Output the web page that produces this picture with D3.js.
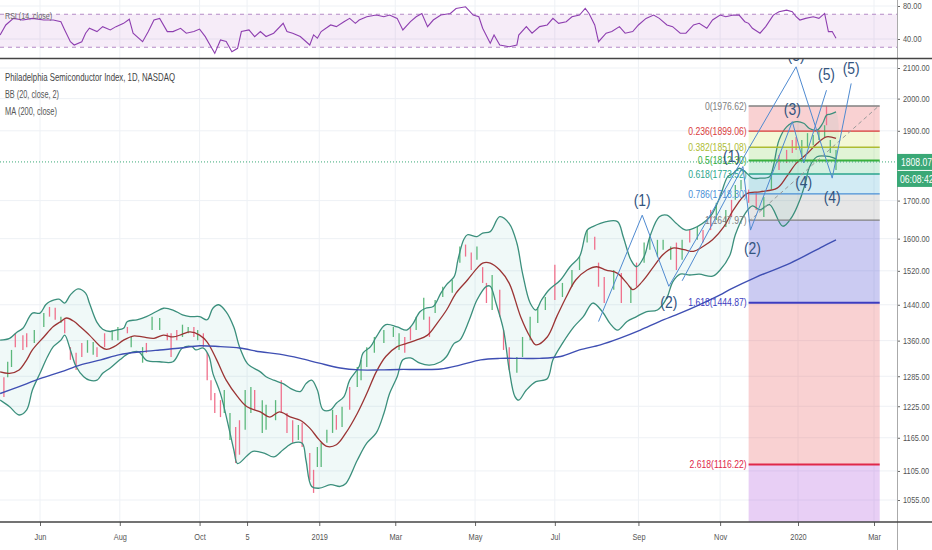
<!DOCTYPE html>
<html><head><meta charset="utf-8">
<script src="https://cdn.jsdelivr.net/npm/d3@7"></script>
<style>body{margin:0;background:#fff}svg{display:block}</style>
</head><body>
<svg id="c" width="932" height="550"></svg>
<script>
// ---------- DATA (day = trading days since 1 Jun 2018) ----------
const xTickDays   = [0,42,84,109,147,187,229,271,315,358,399,439];
const xTickLabels = ["Jun","Aug","Oct","5","2019","Mar","May","Jul","Sep","Nov","2020","Mar"];
const priceTicks  = [2100,2000,1900,1700,1600,1520,1440,1360,1285,1225,1165,1105,1055];
const rsiTicks    = [80,40];

const upperDay = [-21,-16,-12,-9,-4,0,3,5,10,13,16,20,24,26,30,33,37,40,44,46,51,56,61,65,70,75,79,84,88,91,94,98,102,105,109,111,116,119,123,128,132,137,140,143,146,149,153,156,160,163,168,170,174,177,182,188,193,196,200,203,207,211,214,218,220,223,225,230,233,237,242,247,251,254,258,261,264,268,274,279,284,288,291,298,304,307,311,314,318,321,326,330,335,340,346,351,354,358,362,365,368,372,375,379,384,386,389,393,398,402,405,409,412,414,416,419];
const upperVal = [1361,1365,1379,1387,1421,1421,1440,1447,1453,1444,1463,1477,1467,1444,1400,1385,1380,1383,1387,1402,1406,1413,1424,1432,1428,1417,1413,1413,1406,1432,1440,1424,1390,1347,1312,1305,1294,1284,1277,1270,1260,1254,1270,1277,1257,1218,1218,1231,1244,1277,1305,1333,1347,1368,1395,1390,1383,1395,1424,1432,1436,1467,1487,1506,1547,1597,1610,1605,1614,1618,1657,1639,1589,1514,1444,1428,1451,1475,1498,1530,1555,1622,1631,1644,1644,1605,1547,1530,1555,1605,1657,1661,1639,1622,1631,1648,1666,1711,1766,1776,1790,1776,1762,1762,1766,1795,1872,1912,1928,1923,1907,1902,1923,1948,1951,1958];

const midDay = [-21,-16,-11,-7,-4,2,7,11,14,18,21,26,32,35,39,44,49,54,60,65,70,75,79,84,88,93,98,104,109,116,121,126,132,137,142,147,151,156,161,167,172,177,182,188,193,198,204,209,214,219,225,230,233,237,242,247,253,258,261,267,272,277,282,288,293,298,304,309,312,317,323,328,333,339,344,349,354,360,365,372,379,388,393,398,404,409,414,419];
const midVal = [1294,1291,1298,1319,1340,1368,1391,1402,1410,1402,1391,1372,1347,1341,1347,1361,1370,1368,1365,1372,1368,1374,1379,1372,1357,1319,1277,1244,1224,1214,1204,1214,1204,1198,1183,1161,1149,1152,1174,1211,1250,1294,1326,1347,1354,1361,1372,1398,1428,1467,1498,1526,1539,1539,1522,1490,1413,1368,1351,1368,1413,1458,1498,1522,1530,1522,1514,1490,1475,1494,1530,1560,1576,1572,1568,1580,1597,1631,1675,1719,1724,1734,1766,1804,1833,1862,1882,1877];

const lowerDay = [-21,-16,-11,-7,-4,0,4,7,11,13,16,19,23,26,30,33,37,42,47,52,56,63,70,75,80,82,86,89,91,95,100,102,104,109,112,118,123,128,133,138,140,143,147,153,158,161,167,172,177,181,184,188,191,195,200,205,211,214,218,221,226,230,235,237,240,244,247,250,252,256,261,267,270,275,281,286,291,296,300,304,309,314,319,325,330,333,337,342,347,354,358,363,366,371,375,379,384,391,396,400,403,405,409,416,419];
const lowerVal = [1237,1224,1208,1218,1257,1291,1326,1347,1361,1372,1340,1305,1284,1277,1277,1291,1302,1319,1333,1336,1318,1315,1315,1344,1347,1340,1344,1326,1291,1250,1174,1143,1118,1132,1140,1137,1130,1143,1155,1155,1124,1078,1075,1081,1078,1083,1124,1155,1174,1211,1250,1284,1319,1323,1312,1308,1315,1326,1354,1361,1406,1451,1483,1483,1444,1383,1298,1244,1237,1257,1274,1280,1319,1354,1390,1413,1444,1424,1398,1383,1402,1413,1424,1428,1456,1493,1512,1510,1512,1507,1522,1557,1610,1664,1686,1675,1689,1632,1658,1702,1751,1793,1823,1823,1817];

const ma200Day = [-21,-11,0,11,21,32,42,53,63,74,84,95,105,116,126,137,147,158,168,179,189,200,211,221,232,242,253,263,274,284,295,305,316,326,337,347,358,363,377,395,412,419];
const ma200Val = [1250,1264,1280,1294,1308,1319,1330,1336,1340,1344,1349,1347,1344,1336,1331,1322,1312,1302,1298,1298,1299,1299,1300,1308,1319,1322,1322,1322,1326,1340,1351,1365,1383,1402,1421,1440,1463,1475,1505,1539,1580,1597];

const barDay  = [-19,-17,-15,-13,-9,-7,-3,2,5,8,11,13,16,19,22,25,28,30,34,38,41,46,48,54,56,59,63,67,69,72,75,78,81,83,86,88,90,92,95,97,100,103,105,108,111,113,117,119,124,127,130,133,136,138,142,144,146,148,151,154,156,159,163,167,169,172,176,181,186,189,192,195,198,202,205,208,212,217,221,224,227,230,233,235,238,242,244,247,251,254,258,262,266,271,275,280,284,288,292,294,297,302,306,311,314,318,321,325,328,332,335,338,342,346,349,353,356,361,364,366,369,373,377,381,385,389,393,396,398,401,404,407,410,413,414,416,419];
const barHigh = [1283,1315,1340,1376,1372,1376,1383,1421,1435,1433,1413,1406,1346,1334,1355,1361,1357,1346,1376,1383,1390,1390,1368,1346,1355,1413,1410,1376,1376,1383,1395,1390,1390,1383,1376,1334,1277,1251,1237,1257,1212,1185,1198,1257,1263,1257,1237,1228,1237,1277,1212,1198,1189,1193,1137,1107,1148,1156,1180,1218,1208,1224,1263,1304,1319,1346,1368,1383,1390,1376,1368,1390,1413,1456,1413,1451,1482,1498,1580,1585,1565,1580,1529,1491,1510,1475,1383,1346,1325,1368,1413,1435,1458,1535,1491,1522,1555,1622,1605,1540,1505,1522,1515,1482,1540,1590,1605,1597,1597,1580,1590,1597,1622,1630,1622,1675,1694,1675,1702,1743,1757,1730,1722,1710,1777,1828,1843,1872,1881,1872,1893,1887,1902,1917,1977,1872,1843];
const barLow  = [1243,1283,1304,1346,1340,1346,1355,1390,1413,1406,1399,1376,1319,1298,1325,1334,1330,1325,1346,1361,1361,1376,1346,1313,1334,1383,1383,1361,1325,1361,1368,1376,1368,1361,1346,1277,1237,1212,1204,1212,1161,1119,1134,1180,1212,1218,1174,1180,1198,1212,1174,1156,1161,1148,1089,1067,1112,1112,1156,1174,1180,1185,1218,1263,1277,1304,1334,1355,1368,1340,1334,1361,1383,1406,1368,1421,1458,1468,1540,1555,1522,1547,1491,1444,1428,1413,1340,1298,1292,1325,1361,1399,1428,1451,1458,1482,1522,1590,1572,1482,1444,1475,1444,1444,1482,1540,1572,1555,1572,1547,1522,1547,1590,1597,1590,1622,1648,1630,1656,1702,1730,1694,1675,1656,1730,1785,1805,1834,1843,1822,1851,1857,1872,1881,1917,1834,1785];
const barUp   = "duuddduuddudddduudduuduuduuddduududdddduudduuduuuddduddduuuududuuuuuuudduuduuuuddudduddduuuuuduuuudddududuuuuudududduuduudduudddduuuuuduuduudddd";

const rsiDay = [-21,-18,-14,-9,-4,2,7,11,13,16,18,22,24,26,30,33,37,40,44,47,49,54,57,60,63,67,70,74,77,81,84,87,90,92,95,98,101,104,106,110,113,116,119,123,128,130,133,137,142,144,146,148,153,156,160,163,166,168,172,177,181,184,188,191,195,198,201,204,207,211,216,219,224,228,231,233,237,239,242,247,251,252,256,259,263,267,270,273,277,280,284,287,289,292,294,298,301,305,308,312,315,319,323,326,330,333,337,340,344,347,351,354,358,361,365,368,371,373,375,379,382,386,389,393,396,398,400,403,407,410,413,415,417,419];
const rsiVal = [44.8,57,65,63,65,63,63,61,51,36.7,32.7,36.7,47,53,49,55,51,55,59,64,47,36.7,49,63,65,49,49,53,47,49,52,42.9,30.7,22.6,38.8,37,24.6,28.7,49,51,42.9,49,43,47,59,49,47,43,32.7,45,41,49,57,55,61,65,59,63,67,69,67,69,65,51,61,67,71,55,63,69,71,77,79,69,67,53,34.8,44.8,32.7,30.7,32.7,44.8,55,47,55,57,65,59,61,67,69,77,71,57,36.7,47,49,55,47,49,57,65,69,65,57,55,47,47,57,59,53,63,69,67,69,69,61,59,53,47,55,69,73,75,73,67,63,65,67,65,71,49,49,41];

// Fibonacci retracement drawing
const fibStartDay = 373, fibEndDay = 442;
const fibRatio = ["0","0.236","0.382","0.5","0.618","0.786","1","1.618","2.618","3.618"];
const fibPrice = [1976.62,1899.06,1851.08,1812.30,1773.52,1718.30,1647.97,1444.87,1116.22,787.59];
const fibLine  = ["#808080","#d93b3b","#aebc33","#38b03c","#2aa58c","#4a8fd6","#808080","#3c3cc0","#e0284a","#9c27b0"];
const fibFill  = ["rgba(232,90,95,0.28)","rgba(205,222,70,0.22)","rgba(120,205,70,0.22)","rgba(60,185,120,0.22)","rgba(50,165,205,0.22)","rgba(140,140,140,0.22)","rgba(70,70,210,0.28)","rgba(232,90,95,0.28)","rgba(165,70,215,0.26)"];

// Elliott wave drawings (day, price)
const bigWaveDay   = [294,317,331,398,417,427];
const bigWavePrice = [1402,1661,1483,2104,1762,2049];
const smallWaveDay   = [338,370,374,396,402,414];
const smallWavePrice = [1496,1795,1622,1928,1805,2027];
const waveLabelText  = ["(1)","(2)","(3)","(4)","(5)","(1)","(2)","(3)","(4)","(5)"];
const waveLabelDay   = [317,331,398,417,427,364,375,396,402,414];
const waveLabelPrice = [1702,1447,2144,1710,2100,1826,1577,1967,1751,2080];
const trendDay = [373,441], trendPrice = [1644,1974];

const lastPrice = 1808.07, countdown = "06:08:42";

// ---------- CHART ----------
const FONT = "'Liberation Sans',Arial,sans-serif";
const svg = d3.select("#c").attr("font-family",FONT);
const PR = 897, MAIN_TOP = 59, MAIN_BOT = 522, RSI_BOT = 58;
const x = d3.scaleLinear().domain([0,439]).range([40,874]);
const y = d3.scaleLog().domain([1055,2100]).range([500,68]);
const yr = d3.scaleLinear().domain([40,80]).range([39,6]);

const defs = svg.append("defs");
defs.append("clipPath").attr("id","cm").append("rect").attr("x",0).attr("y",MAIN_TOP).attr("width",PR).attr("height",MAIN_BOT-MAIN_TOP);
defs.append("clipPath").attr("id","cr").append("rect").attr("x",0).attr("y",0).attr("width",PR).attr("height",RSI_BOT);

// grid
const grid = svg.append("g").attr("stroke","#eef1f5").attr("stroke-width",1);
xTickDays.forEach(d=>grid.append("line").attr("x1",x(d)).attr("x2",x(d)).attr("y1",0).attr("y2",MAIN_BOT));
priceTicks.forEach(p=>grid.append("line").attr("x1",0).attr("x2",PR).attr("y1",y(p)).attr("y2",y(p)));
rsiTicks.forEach(v=>grid.append("line").attr("x1",0).attr("x2",PR).attr("y1",yr(v)).attr("y2",yr(v)));

// ---------- RSI panel ----------
const rg = svg.append("g").attr("clip-path","url(#cr)");
rg.append("rect").attr("x",0).attr("width",PR).attr("y",yr(70)).attr("height",yr(30)-yr(70)).attr("fill","#9c27b0").attr("opacity",0.09);
[70,30].forEach(v=>rg.append("line").attr("x1",0).attr("x2",PR).attr("y1",yr(v)).attr("y2",yr(v))
  .attr("stroke","#b48ac6").attr("stroke-dasharray","4,4").attr("stroke-width",1));
rg.append("path").attr("d",d3.line().x(d=>x(d[0])).y(d=>yr(d[1]))(d3.zip(rsiDay,rsiVal)))
  .attr("fill","none").attr("stroke","#8e3fb0").attr("stroke-width",1.1);
svg.append("text").attr("x",5).attr("y",19).text("RSI (14, close)")
  .attr("font-size",9.5).attr("fill","#666").attr("textLength",47).attr("lengthAdjust","spacingAndGlyphs");

// ---------- main panel ----------
const mg = svg.append("g").attr("clip-path","url(#cm)");
const curve = d3.curveCatmullRom.alpha(0.5);
const lp = (xs,vs)=>d3.line().x(d=>x(d[0])).y(d=>y(d[1])).curve(curve)(d3.zip(xs,vs));

// fib fills
for(let i=0;i<fibFill.length;i++){
  mg.append("rect").attr("x",x(fibStartDay)).attr("width",x(fibEndDay)-x(fibStartDay))
    .attr("y",y(fibPrice[i])).attr("height",y(fibPrice[i+1])-y(fibPrice[i])).attr("fill",fibFill[i]);
}

// BB fill
const poly = d3.zip(upperDay,upperVal).concat(d3.zip(lowerDay,lowerVal).reverse());
mg.append("path").attr("d",d3.line().x(d=>x(d[0])).y(d=>y(d[1])).curve(d3.curveCatmullRomClosed.alpha(0.5))(poly))
  .attr("fill","rgba(38,166,154,0.07)").attr("stroke","none");

// bars
barDay.forEach((d,i)=>{
  mg.append("line").attr("x1",x(d)).attr("x2",x(d)).attr("y1",y(barHigh[i])).attr("y2",y(barLow[i]))
    .attr("stroke",barUp[i]==="u"?"#5cb87c":"#f0708c").attr("stroke-width",1.3);
});

// bands + MAs
mg.append("path").attr("d",lp(upperDay,upperVal)).attr("fill","none").attr("stroke","#3b8f7c").attr("stroke-width",1.3);
mg.append("path").attr("d",lp(lowerDay,lowerVal)).attr("fill","none").attr("stroke","#3b8f7c").attr("stroke-width",1.3);
mg.append("path").attr("d",lp(midDay,midVal)).attr("fill","none").attr("stroke","#9b3434").attr("stroke-width",1.3);
mg.append("path").attr("d",lp(ma200Day,ma200Val)).attr("fill","none").attr("stroke","#3f4fb3").attr("stroke-width",1.4);

// fib lines + labels
for(let i=0;i<fibRatio.length;i++){
  const yy = y(fibPrice[i]);
  const w = (fibRatio[i]==="0.5"||fibRatio[i]==="1.618"||fibRatio[i]==="2.618")?2:1.4;
  mg.append("line").attr("x1",x(fibStartDay)).attr("x2",x(fibEndDay)).attr("y1",yy).attr("y2",yy)
    .attr("stroke",fibLine[i]).attr("stroke-width",w);
  mg.append("text").attr("class","nar").attr("x",x(fibStartDay)-2).attr("y",yy).attr("dy","0.35em").attr("text-anchor","end")
    .attr("font-size",10.5).attr("fill",fibLine[i])
    .text(fibRatio[i]+"("+fibPrice[i].toFixed(2)+")");
}
// trend dashed
mg.append("line").attr("x1",x(trendDay[0])).attr("x2",x(trendDay[1])).attr("y1",y(trendPrice[0])).attr("y2",y(trendPrice[1]))
  .attr("stroke","#9a9a9a").attr("stroke-dasharray","4,3").attr("stroke-width",1);

// elliott waves
const wl = d3.line().x(d=>x(d[0])).y(d=>y(d[1]));
mg.append("path").attr("d",wl(d3.zip(bigWaveDay,bigWavePrice))).attr("fill","none").attr("stroke","#4f8ad0").attr("stroke-width",1);
mg.append("path").attr("d",wl(d3.zip(smallWaveDay,smallWavePrice))).attr("fill","none").attr("stroke","#4f8ad0").attr("stroke-width",1);
waveLabelText.forEach((t,i)=>{
  mg.append("text").attr("class","nar").attr("x",x(waveLabelDay[i])).attr("y",y(waveLabelPrice[i])).attr("dy","0.35em")
    .attr("text-anchor","middle").attr("font-size",17).attr("fill","#33547f").text(t);
});

// current price line
mg.append("line").attr("x1",0).attr("x2",PR).attr("y1",y(lastPrice)).attr("y2",y(lastPrice))
  .attr("stroke","#3aa876").attr("stroke-dasharray","1,2").attr("stroke-width",1);

// legend
const lg = svg.append("g").attr("font-size",11);
lg.append("text").attr("x",5).attr("y",81).attr("fill","#444").text("Philadelphia Semiconductor Index, 1D, NASDAQ").attr("textLength",170).attr("lengthAdjust","spacingAndGlyphs");
lg.append("text").attr("x",5).attr("y",98).attr("fill","#555").text("BB (20, close, 2)").attr("textLength",54).attr("lengthAdjust","spacingAndGlyphs");
lg.append("text").attr("x",5).attr("y",115).attr("fill","#555").text("MA (200, close)").attr("textLength",52).attr("lengthAdjust","spacingAndGlyphs");

// ---------- axes ----------
const styleAxis = g=>{ g.select(".domain").remove(); g.selectAll("line").attr("stroke","#666");
  g.selectAll("text").attr("class","nar").attr("font-family",FONT).attr("font-size",9).attr("fill","#555"); };
svg.append("g").attr("transform",`translate(${PR},0)`)
  .call(d3.axisRight(y).tickValues(priceTicks).tickFormat(d3.format(".2f")).tickSize(3).tickPadding(3)).call(styleAxis);
svg.append("g").attr("transform",`translate(${PR},0)`)
  .call(d3.axisRight(yr).tickValues(rsiTicks).tickFormat(d3.format(".2f")).tickSize(3).tickPadding(3)).call(styleAxis);
svg.append("g").attr("transform",`translate(0,${MAIN_BOT})`)
  .call(d3.axisBottom(x).tickValues(xTickDays).tickFormat((d,i)=>xTickLabels[i]).tickSize(4).tickPadding(8)).call(styleAxis);

// frame lines
svg.append("line").attr("x1",PR+0.5).attr("x2",PR+0.5).attr("y1",0).attr("y2",550).attr("stroke","#aaa");
svg.append("line").attr("x1",0).attr("x2",932).attr("y1",RSI_BOT+0.5).attr("y2",RSI_BOT+0.5).attr("stroke","#444").attr("stroke-width",1.5);
svg.append("line").attr("x1",0).attr("x2",932).attr("y1",MAIN_BOT).attr("y2",MAIN_BOT).attr("stroke","#444").attr("stroke-width",1.5);

// price label boxes
const py = y(lastPrice);
svg.append("rect").attr("x",PR).attr("y",py-8).attr("width",35).attr("height",16).attr("fill","#3aa876");
svg.append("text").attr("class","nar").attr("x",PR+4).attr("y",py).attr("dy","0.35em").attr("font-size",10.5).attr("fill","#fff").text(lastPrice.toFixed(2));
svg.append("rect").attr("x",PR).attr("y",py+9).attr("width",35).attr("height",16).attr("fill","#3aa876");
svg.append("text").attr("class","nar").attr("x",PR+3).attr("y",py+17).attr("dy","0.35em").attr("font-size",10.5).attr("fill","#fff").text(countdown);

// condensed look: compress glyphs horizontally (narrow typeface emulation)
svg.selectAll("text.nar").each(function(){
  const L = this.getComputedTextLength();
  this.setAttribute("textLength", (L*0.82).toFixed(1));
  this.setAttribute("lengthAdjust","spacingAndGlyphs");
});
</script>
</body></html>
